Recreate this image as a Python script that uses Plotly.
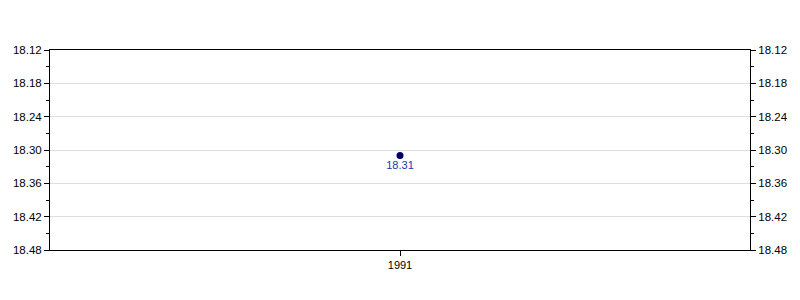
import plotly.graph_objects as go

years = [1991]
values = [18.31]
labels = ["18.31"]
y_ticks = [18.12, 18.18, 18.24, 18.30, 18.36, 18.42, 18.48]
y_ticktext = ["18.12", "18.18", "18.24", "18.30", "18.36", "18.42", "18.48"]

fig = go.Figure()
fig.add_trace(go.Scatter(
    x=years, y=values, mode="markers+text",
    text=labels, textposition="bottom center",
    textfont=dict(color="#1a3aa8", size=11, family="Liberation Sans, Arial"),
    marker=dict(color="#000066", size=7),
    showlegend=False, cliponaxis=False,
))
# invisible trace for right axis
fig.add_trace(go.Scatter(x=years, y=values, yaxis="y2", mode="markers",
                         marker=dict(opacity=0), showlegend=False, hoverinfo="skip"))

yax = dict(
    range=[18.48, 18.12], tickvals=y_ticks, ticktext=y_ticktext,
    ticks="outside", ticklen=5, tickcolor="black", tickwidth=1,
    showline=True, linecolor="black", linewidth=1,
    showgrid=True, gridcolor="#dddddd", gridwidth=1, zeroline=False,
    minor=dict(ticks="outside", ticklen=3, tickcolor="black", dtick=0.03, showgrid=False),
    tickfont=dict(size=11.5, color="black", family="Liberation Sans, Arial"),
)
fig.update_layout(
    width=800, height=300,
    margin=dict(l=50, r=48, t=50, b=50),
    plot_bgcolor="white", paper_bgcolor="white",
    xaxis=dict(range=[1990, 1992], tickvals=years, ticktext=["1991"],
               ticks="outside", ticklen=5, tickcolor="black",
               showline=True, linecolor="black", mirror=True, showgrid=False,
               zeroline=False,
               tickfont=dict(size=11, color="black", family="Liberation Sans, Arial")),
    yaxis=yax,
    yaxis2=dict(yax, overlaying="y", side="right", showgrid=False),
)
fig.write_html("out.html")
